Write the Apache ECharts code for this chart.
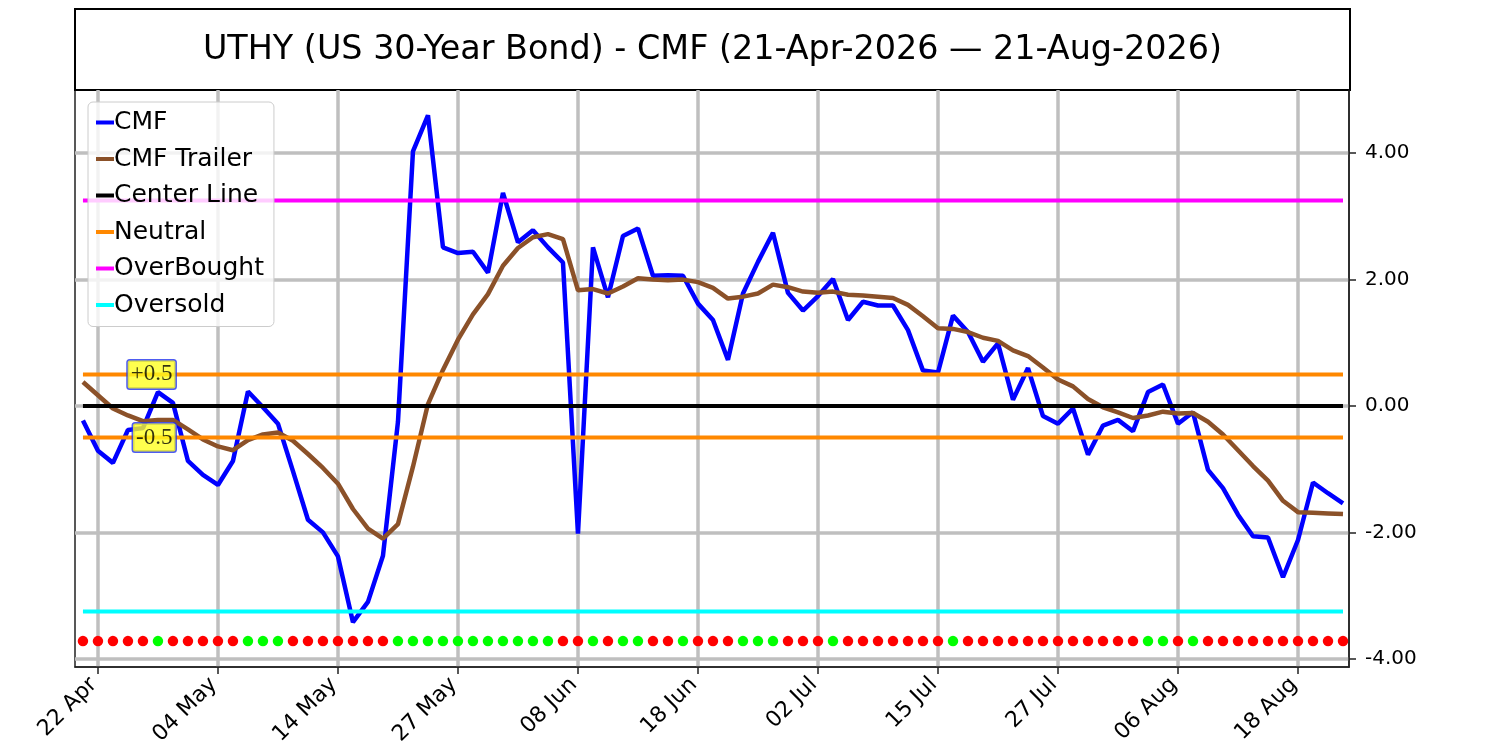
<!DOCTYPE html>
<html>
<head>
<meta charset="utf-8">
<script src="https://cdn.jsdelivr.net/npm/echarts@6/dist/echarts.min.js"></script>
<style>
  html, body { margin: 0; padding: 0; background: #fff; }
  #cmfChart { width: 1500px; height: 750px; }
</style>
</head>
<body>
<div id="cmfChart"></div>
<script>
// trading days 21-Apr-2026 .. 21-Aug-2026 (85 sessions), x = session index
const tickPos = [1, 9, 17, 25, 33, 41, 49, 57, 65, 73, 81];
const tickLabels = ['22 Apr', '04 May', '14 May', '27 May', '08 Jun', '18 Jun',
    '02 Jul', '15 Jul', '27 Jul', '06 Aug', '18 Aug'];
const yTicks = [-4, -2, 0, 2, 4];

const cmf = [
    -0.23, -0.71, -0.90, -0.38, -0.35, 0.22, 0.05, -0.87, -1.09, -1.25,
    -0.87, 0.23, -0.02, -0.28, -1.03, -1.80, -2.00, -2.38, -3.42, -3.10,
    -2.37, -0.25, 4.03, 4.60, 2.51, 2.42, 2.44, 2.11, 3.37, 2.59,
    2.78, 2.51, 2.27, -2.02, 2.51, 1.72, 2.69, 2.81, 2.06, 2.07,
    2.06, 1.62, 1.36, 0.73, 1.78, 2.28, 2.74, 1.79, 1.51, 1.74,
    2.01, 1.36, 1.65, 1.59, 1.59, 1.20, 0.56, 0.53, 1.43, 1.17,
    0.70, 0.99, 0.10, 0.60, -0.16, -0.28, -0.04, -0.77, -0.31, -0.22,
    -0.40, 0.22, 0.34, -0.28, -0.10, -1.01, -1.30, -1.72, -2.06, -2.08,
    -2.71, -2.12, -1.21, -1.38, -1.54
];
const cmfTrailer = [
    0.38, 0.17, -0.04, -0.15, -0.24, -0.22, -0.22, -0.37, -0.53, -0.64,
    -0.70, -0.54, -0.45, -0.42, -0.55, -0.76, -0.98, -1.23, -1.63, -1.94,
    -2.10, -1.87, -0.96, 0.03, 0.57, 1.05, 1.45, 1.77, 2.22, 2.50,
    2.67, 2.72, 2.64, 1.83, 1.85, 1.78, 1.89, 2.02, 2.00, 1.99,
    2.00, 1.96, 1.87, 1.70, 1.73, 1.78, 1.92, 1.88, 1.81, 1.79,
    1.81, 1.76, 1.75, 1.73, 1.71, 1.60, 1.42, 1.23, 1.22, 1.17,
    1.08, 1.03, 0.88, 0.79, 0.61, 0.42, 0.31, 0.11, -0.02, -0.10,
    -0.19, -0.15, -0.09, -0.12, -0.11, -0.25, -0.45, -0.70, -0.95, -1.18,
    -1.50, -1.68, -1.69, -1.70, -1.71
];
// daily signal dots: G = green, R = red
const signal = [
    'R', 'R', 'R', 'R', 'R', 'G', 'R', 'R', 'R', 'R',
    'R', 'G', 'G', 'G', 'R', 'R', 'R', 'R', 'R', 'R',
    'R', 'G', 'G', 'G', 'G', 'G', 'G', 'G', 'G', 'G',
    'G', 'G', 'R', 'R', 'G', 'R', 'G', 'G', 'R', 'R',
    'G', 'R', 'R', 'R', 'G', 'G', 'G', 'R', 'R', 'R',
    'G', 'R', 'R', 'R', 'R', 'R', 'R', 'R', 'G', 'R',
    'R', 'R', 'R', 'R', 'R', 'R', 'R', 'R', 'R', 'R',
    'R', 'G', 'G', 'R', 'G', 'R', 'R', 'R', 'R', 'R',
    'R', 'R', 'R', 'R', 'R'
];
const centerLevel = 0;
const neutralLevels = [0.5, -0.5];
const overBought = 3.25;
const overSold = -3.25;
const dotLevel = -3.72;
const zoneLabels = ['+0.5', '-0.5'];

const FONT = 'DejaVu Sans';
const lastIdx = cmf.length - 1;
const labelAnchor = 6.2;

let cmfDom = document.getElementById('cmfChart');
let cmfChart = echarts.init(cmfDom);

function levelLine(name, level, color) {
    return {
        name: name,
        type: 'line',
        data: [[0, level], [lastIdx, level]],
        symbol: 'none',
        silent: true,
        z: 3,
        lineStyle: { color: color, width: 4 },
        itemStyle: { color: color }
    };
}

var option = {
    animation: false,
    backgroundColor: '#fff',
    graphic: [
        {
            type: 'rect',
            shape: { x: 75, y: 9, width: 1275, height: 81 },
            style: { fill: 'none', stroke: '#000', lineWidth: 2 }
        },
        {
            type: 'text',
            x: 712.5,
            y: 50,
            style: {
                text: 'UTHY (US 30-Year Bond) - CMF (21-Apr-2026 \u2014 21-Aug-2026)',
                fontFamily: FONT,
                fontSize: 33.4,
                fill: '#000',
                align: 'center',
                verticalAlign: 'middle'
            }
        }
    ],
    legend: {
        data: ['CMF', 'CMF Trailer', 'Center Line', 'Neutral', 'OverBought', 'Oversold'],
        orient: 'vertical',
        left: 88,
        top: 102,
        icon: 'rect',
        itemWidth: 18,
        itemHeight: 4,
        itemGap: 11.5,
        padding: [8, 10, 9, 8],
        backgroundColor: 'rgba(255,255,255,0.8)',
        borderColor: '#cccccc',
        borderWidth: 1,
        borderRadius: 5,
        textStyle: {
            fontFamily: FONT,
            fontSize: 25,
            lineHeight: 25,
            color: '#000',
            padding: [0, 0, 0, -5]
        }
    },
    grid: {
        left: 75,
        right: 151,
        top: 90,
        bottom: 83,
        show: true,
        borderColor: '#222',
        borderWidth: 1.5
    },
    xAxis: {
        type: 'value',
        min: -0.53,
        max: 84.4,
        splitLine: { show: false },
        axisLine: { show: true, onZero: false, lineStyle: { color: '#222', width: 1.5 } },
        axisTick: {
            show: true,
            customValues: tickPos,
            length: 7,
            lineStyle: { color: '#222', width: 1.5 }
        },
        axisLabel: {
            customValues: tickPos,
            rotate: 45,
            margin: 10,
            padding: [0, 6, 0, 0],
            fontFamily: FONT,
            fontSize: 22,
            color: '#000',
            formatter: v => tickLabels[tickPos.indexOf(v)]
        }
    },
    yAxis: {
        type: 'value',
        position: 'right',
        min: -4.13,
        max: 5,
        splitLine: { show: false },
        axisLine: { show: true, onZero: false, lineStyle: { color: '#222', width: 1.5 } },
        axisTick: {
            show: true,
            customValues: yTicks,
            length: 7,
            lineStyle: { color: '#222', width: 1.5 }
        },
        axisLabel: {
            customValues: yTicks,
            margin: 16,
            fontFamily: FONT,
            fontSize: 20,
            color: '#000',
            formatter: v => v.toFixed(2)
        }
    },
    series: [
        {
            name: 'grid',
            type: 'line',
            data: [],
            silent: true,
            z: 0,
            markLine: {
                silent: true,
                z: 0,
                symbol: 'none',
                label: { show: false },
                lineStyle: { color: '#bfbfbf', width: 3.5, type: 'solid' },
                data: tickPos.map(v => ({ xAxis: v })).concat(yTicks.map(v => ({ yAxis: v })))
            }
        },
        {
            name: 'CMF',
            type: 'line',
            data: cmf.map((v, i) => [i, v]),
            symbol: 'none',
            z: 2,
            lineStyle: { color: '#0000ff', width: 4.5 },
            itemStyle: { color: '#0000ff' }
        },
        {
            name: 'CMF Trailer',
            type: 'line',
            data: cmfTrailer.map((v, i) => [i, v]),
            symbol: 'none',
            z: 2,
            lineStyle: { color: '#8b5129', width: 4.5 },
            itemStyle: { color: '#8b5129' }
        },
        levelLine('Center Line', centerLevel, '#000000'),
        levelLine('Neutral', neutralLevels[0], '#ff8800'),
        levelLine('Neutral', neutralLevels[1], '#ff8800'),
        levelLine('OverBought', overBought, '#ff00ff'),
        levelLine('Oversold', overSold, '#00ffff'),
        {
            name: 'signal',
            type: 'scatter',
            data: signal.map((s, i) => [i, dotLevel, s]),
            symbolSize: 10.5,
            silent: true,
            z: 5,
            itemStyle: {
                opacity: 1,
                color: p => (p.data[2] === 'G' ? '#00ff00' : '#ff0000')
            }
        },
        {
            name: 'zones',
            type: 'scatter',
            data: neutralLevels.map((v, i) => [labelAnchor, v, zoneLabels[i]]),
            symbolSize: 1,
            silent: true,
            z: 6,
            itemStyle: { color: 'rgba(0,0,0,0)' },
            label: {
                show: true,
                position: 'left',
                distance: 0,
                formatter: p => p.data[2],
                fontFamily: 'Liberation Serif',
                fontSize: 23,
                color: '#000',
                backgroundColor: '#ffff22',
                borderColor: '#2233ee',
                borderWidth: 1.5,
                borderRadius: 2,
                padding: [3, 3, 2, 3]
            }
        }
    ]
};
cmfChart.setOption(option);
</script>
</body>
</html>
